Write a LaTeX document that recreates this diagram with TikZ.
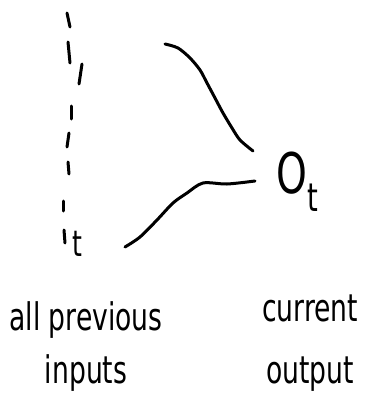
\documentclass[tikz,border=0pt]{standalone}
\usepackage{fontspec}
\newfontfamily\handFont{DejaVu Sans}[FakeStretch=0.7]
\usepackage{tikz}
\usetikzlibrary{calc}
\tikzset{
  sketchLine/.style={line width=3pt, line cap=round, line join=round, black},
  sketchDash/.style={line width=3pt, line cap=round, black},
  sketchLabel/.style={font=\handFont\fontsize{38}{53}\selectfont, align=center, inner sep=0pt},
  stepLabel/.style={font=\handFont\fontsize{36}{36}\selectfont, inner sep=0pt},
  outLabel/.style={font=\handFont\fontsize{56}{56}\selectfont, inner sep=0pt}
}

\begin{document}
\begin{tikzpicture}[x=1pt,y=-1pt]
  \useasboundingbox (0,0) rectangle (375,396);
  % column of previous inputs
  \foreach \xa/\ya/\xb/\yb in {67/13/70/27, 68/42/70/63, 82/64/79/84, 71/106/71/119,
                               69/133/67/147, 68/162/69/174, 63/201/63/211, 64/230/65/243}
    \draw[sketchDash] (\xa,\ya) -- (\xb,\yb);
  \node[stepLabel, anchor=base west] (tLabel) at (72,256) {t};

  \node[outLabel, anchor=base west] (out) at (276,193) {O\textsubscript{t}};

  % the two curves into the output
  \coordinate (upStart) at (165,44);
  \coordinate (upEnd) at (253,151);
  \coordinate (lowStart) at (125,247);
  \coordinate (lowEnd) at (255,181);
  \draw[sketchLine] plot[smooth] coordinates {(upStart) (178,48) (190,58) (200,70) (207,83)
    (215,98) (223,113) (232,128) (240,140) (upEnd)};
  \draw[sketchLine] plot[smooth] coordinates {(lowStart) (140,237) (157,220) (173,203)
    (187,193) (203,183) (227,184) (lowEnd)};

  \node[sketchLabel] (inText) at (86,347) {all previous\\inputs};
  \node[sketchLabel, font=\handFont\fontsize{38}{62}\selectfont] (outText) at (310,343)
    {current\\output};
\end{tikzpicture}
\end{document}
